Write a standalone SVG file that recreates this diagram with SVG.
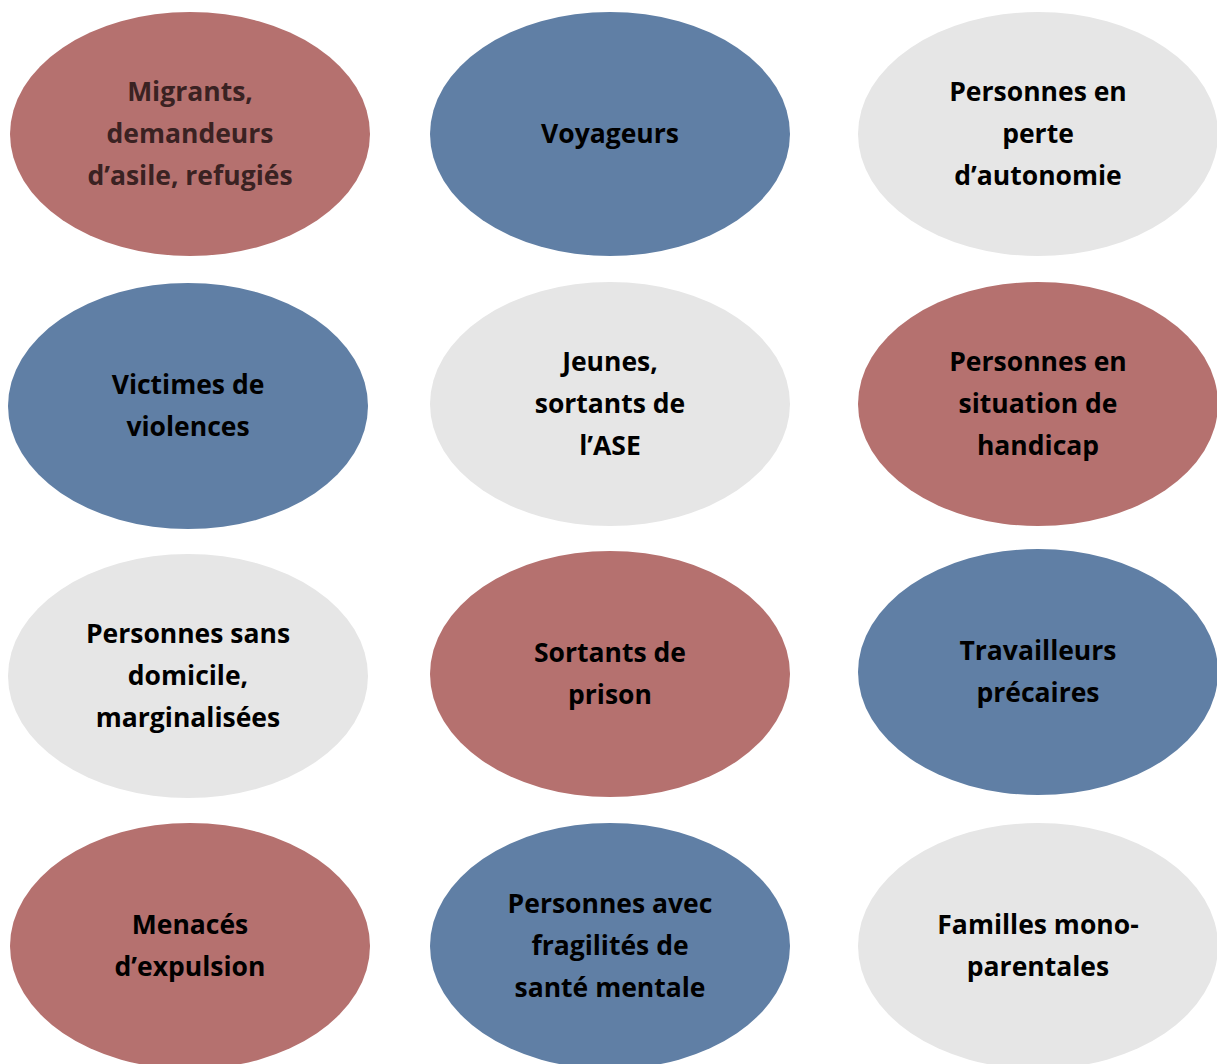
<svg xmlns="http://www.w3.org/2000/svg" width="1217" height="1064" viewBox="0 0 1217 1064">
<style>
.red{fill:#B5716F}
.blue{fill:#607FA5}
.grey{fill:#E6E6E6}
text{font-family:"Open Sans",Lato,"Liberation Sans",sans-serif;font-weight:bold;font-size:26.5px;text-anchor:middle;fill:#000}
.dark{fill:#3A2222}
</style>
<rect width="1217" height="1064" fill="#fff"/>
<g id="connectors"></g>
<g id="n1"><ellipse class="red" cx="190" cy="134" rx="180" ry="122"/><text class="dark" x="190"><tspan x="190" y="101">Migrants,</tspan><tspan x="190" y="143">demandeurs</tspan><tspan x="190" y="185">d’asile, refugiés</tspan></text></g>
<g id="n2"><ellipse class="blue" cx="610" cy="134" rx="180" ry="122"/><text x="610" y="143">Voyageurs</text></g>
<g id="n3"><ellipse class="grey" cx="1038" cy="134" rx="180" ry="122"/><text><tspan x="1038" y="101">Personnes en</tspan><tspan x="1038" y="143">perte</tspan><tspan x="1038" y="185">d’autonomie</tspan></text></g>
<g id="n4"><ellipse class="blue" cx="188" cy="406" rx="180" ry="123"/><text><tspan x="188" y="394">Victimes de</tspan><tspan x="188" y="436">violences</tspan></text></g>
<g id="n5"><ellipse class="grey" cx="610" cy="404" rx="180" ry="122"/><text><tspan x="610" y="371">Jeunes,</tspan><tspan x="610" y="413">sortants de</tspan><tspan x="610" y="455">l’ASE</tspan></text></g>
<g id="n6"><ellipse class="red" cx="1038" cy="404" rx="180" ry="122"/><text><tspan x="1038" y="371">Personnes en</tspan><tspan x="1038" y="413">situation de</tspan><tspan x="1038" y="455">handicap</tspan></text></g>
<g id="n7"><ellipse class="grey" cx="188" cy="676" rx="180" ry="122"/><text><tspan x="188" y="643">Personnes sans</tspan><tspan x="188" y="685">domicile,</tspan><tspan x="188" y="727">marginalisées</tspan></text></g>
<g id="n8"><ellipse class="red" cx="610" cy="674" rx="180" ry="123"/><text><tspan x="610" y="662">Sortants de</tspan><tspan x="610" y="704">prison</tspan></text></g>
<g id="n9"><ellipse class="blue" cx="1038" cy="672" rx="180" ry="123"/><text><tspan x="1038" y="660">Travailleurs</tspan><tspan x="1038" y="702">précaires</tspan></text></g>
<g id="n10"><ellipse class="red" cx="190" cy="946" rx="180" ry="123"/><text><tspan x="190" y="934">Menacés</tspan><tspan x="190" y="976">d’expulsion</tspan></text></g>
<g id="n11"><ellipse class="blue" cx="610" cy="946" rx="180" ry="123"/><text><tspan x="610" y="913">Personnes avec</tspan><tspan x="610" y="955">fragilités de</tspan><tspan x="610" y="997">santé mentale</tspan></text></g>
<g id="n12"><ellipse class="grey" cx="1038" cy="946" rx="180" ry="123"/><text><tspan x="1038" y="934">Familles mono-</tspan><tspan x="1038" y="976">parentales</tspan></text></g>
</svg>
